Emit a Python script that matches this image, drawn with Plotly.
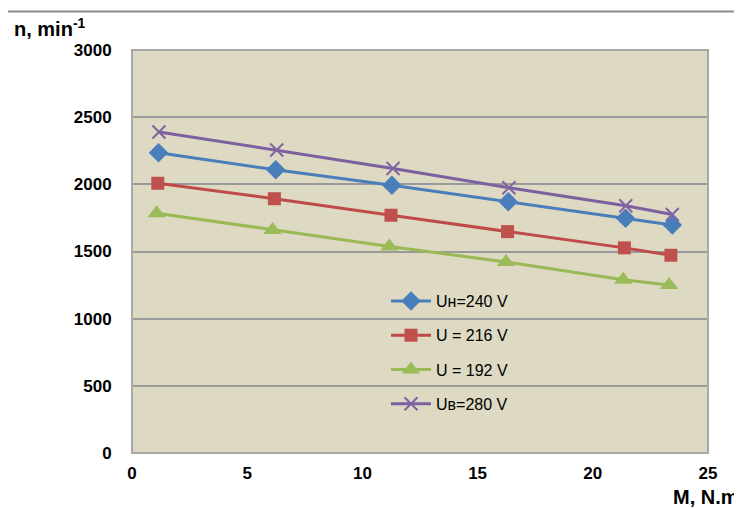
import plotly.graph_objects as go

# Data
x_ub = [1.17, 6.28, 11.33, 16.36, 21.43, 23.45]
y_ub = [2390, 2255, 2118, 1975, 1840, 1775]
x_un = [1.15, 6.24, 11.28, 16.33, 21.42, 23.45]
y_un = [2235, 2108, 1993, 1871, 1748, 1698]
x_216 = [1.12, 6.18, 11.24, 16.30, 21.37, 23.39]
y_216 = [2008, 1893, 1770, 1648, 1527, 1472]
x_192 = [1.07, 6.10, 11.17, 16.23, 21.32, 23.31]
y_192 = [1785, 1660, 1538, 1422, 1290, 1250]

names = ["Uн=240 V", "U = 216 V", "U = 192 V", "Uв=280 V"]
x_ticks = [0, 5, 10, 15, 20, 25]
y_ticks = [0, 500, 1000, 1500, 2000, 2500, 3000]

FONT = "Liberation Sans, Arial, sans-serif"
OFF = 8  # default page body margin
WIN_W, WIN_H = 742, 509
W, H = WIN_W - OFF, WIN_H - OFF
# plot-area edges in window pixels
PL, PR, PT, PB = 132, 708, 50, 453
L, R, T, B = PL - OFF, WIN_W - PR, PT - OFF, WIN_H - PB
pw, ph = PR - PL, PB - PT

def px(xp):
    return (xp - PL) / pw

def py(yp):
    return (PB - yp) / ph

fig = go.Figure()
series = [
    (x_un, y_un, names[0], "#4A7EBB", dict(symbol="diamond", size=15, color="#4A7EBB")),
    (x_216, y_216, names[1], "#BE4B48", dict(symbol="square", size=13, color="#C0504D")),
    (x_192, y_192, names[2], "#98B954", dict(symbol="triangle-up", size=16, color="#9BBB59")),
    (x_ub, y_ub, names[3], "#7D60A0", dict(symbol="x-thin", size=13, color="#8064A2",
                                           line=dict(width=2, color="#8064A2"))),
]
for i, (xs, ys, nm, lc, mk) in enumerate(series):
    fig.add_trace(go.Scatter(x=xs, y=ys, name=nm, mode="lines+markers",
                             line=dict(color=lc, width=3), marker=mk,
                             legendgroup=f"g{i}"))

fig.update_layout(
    width=W, height=H,
    margin=dict(l=L, r=R, t=T, b=B),
    paper_bgcolor="white",
    plot_bgcolor="#DDD9C3",
    font=dict(family=FONT, color="black"),
    showlegend=True,
    legend=dict(x=px(386), y=py(284), xanchor="left", yanchor="top",
                bgcolor="rgba(0,0,0,0)", font=dict(size=16, family=FONT),
                tracegroupgap=10.5, itemwidth=40),
    xaxis=dict(range=[0, 25], tickvals=x_ticks, showgrid=False, zeroline=False,
               ticks="outside", ticklen=5, tickcolor="rgba(0,0,0,0)",
               tickfont=dict(size=17, family=FONT, weight="bold"),
               showline=False),
    yaxis=dict(range=[0, 3000], tickvals=y_ticks, showgrid=True, gridcolor="#9A9A9A",
               gridwidth=1.5, zeroline=False,
               ticks="outside", ticklen=16, tickcolor="rgba(0,0,0,0)",
               tickfont=dict(size=17, family=FONT, weight="bold"),
               showline=False),
    shapes=[
        dict(type="rect", xref="paper", yref="paper", x0=0, x1=1, y0=0, y1=1,
             line=dict(color="#A8A8A8", width=2), layer="above"),
        dict(type="rect", xref="paper", yref="paper", x0=px(7), x1=px(760),
             y0=py(525), y1=py(11.5), line=dict(color="#8A8A8A", width=2)),
    ],
    annotations=[
        dict(text="<b>n, min<sup>-1</sup></b>", xref="paper", yref="paper",
             x=px(12), y=py(28), xanchor="left", yanchor="middle", showarrow=False,
             font=dict(size=20, family=FONT)),
        dict(text="<b>M, N.m</b>", xref="paper", yref="paper",
             x=px(671), y=py(497), xanchor="left", yanchor="middle", showarrow=False,
             font=dict(size=20, family=FONT)),
    ],
)

fig.write_html("out.html")
